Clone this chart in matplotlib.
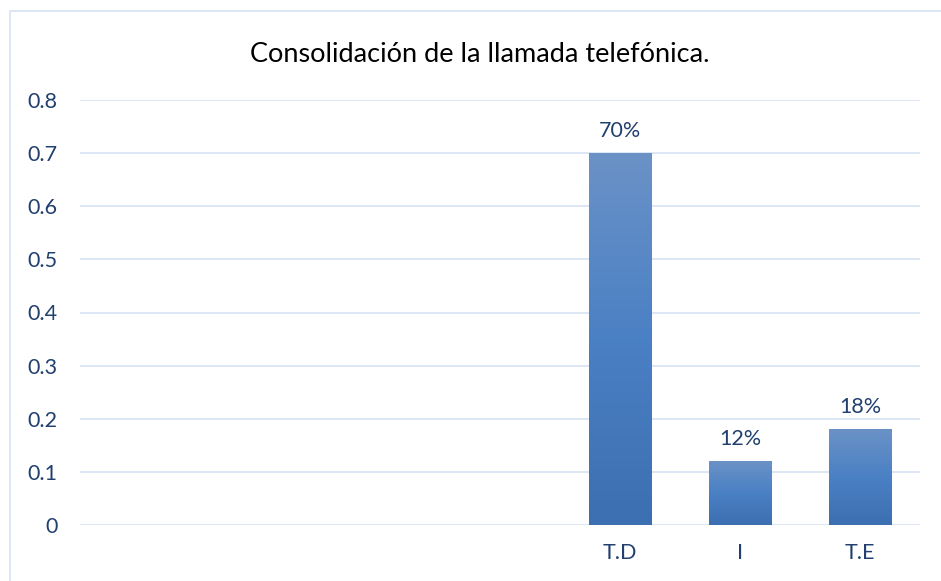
import numpy as np
import matplotlib.pyplot as plt
from matplotlib.colors import LinearSegmentedColormap
from matplotlib.patches import Rectangle

categorias = ["", "", "", "", "T.D", "I", "T.E"]
valores = [0, 0, 0, 0, 0.70, 0.12, 0.18]
etiquetas = ["", "", "", "", "70%", "12%", "18%"]

plt.rcParams['font.family'] = ['Lato', 'DejaVu Sans']
azul_texto = "#21406f"
grid_color = "#d6e2f3"

fig = plt.figure(figsize=(9.41, 5.81), dpi=100)
ax = fig.add_axes([80 / 941, 1 - 525 / 581, 840 / 941, 425 / 581])

# marco del grafico
fig.patches.append(Rectangle((10 / 941, -0.1), 1.2, 1 - 11 / 581 + 0.1, transform=fig.transFigure,
                             fill=False, edgecolor="#d6e2f3", linewidth=1.2))

x = np.arange(len(categorias))
barras = ax.bar(x, valores, width=0.52, color="none", edgecolor="none", zorder=3)

grad = LinearSegmentedColormap.from_list("g", ["#3c6fb1", "#4a80c4", "#6b92c7"])
for b in barras:
    if b.get_height() <= 0:
        continue
    im = ax.imshow(np.linspace(0, 1, 256).reshape(-1, 1), cmap=grad, origin="lower", aspect="auto",
                   extent=[b.get_x(), b.get_x() + b.get_width(), 0, b.get_height()], zorder=3)
    im.set_clip_path(b)

for xi, v, t in zip(x, valores, etiquetas):
    if t:
        ax.annotate(t, (xi, v), xytext=(0, 16), textcoords="offset points", ha="center", va="center",
                    fontsize=15.5, color=azul_texto)

ax.set_xlim(-0.5, len(categorias) - 0.5)
ax.set_ylim(0, 0.8)
ax.set_yticks(np.arange(0, 0.81, 0.1))
ax.set_yticklabels(["0", "0.1", "0.2", "0.3", "0.4", "0.5", "0.6", "0.7", "0.8"])
ax.set_xticks(x)
ax.set_xticklabels(categorias)
ax.tick_params(axis="both", length=0, labelsize=15.5, labelcolor=azul_texto)
ax.tick_params(axis="y", pad=16)
ax.tick_params(axis="x", pad=13)
ax.grid(axis="y", color=grid_color, linewidth=1.2, zorder=0)
ax.set_axisbelow(True)
for s in ax.spines.values():
    s.set_visible(False)

fig.text(480 / 941, 1 - 54 / 581, "Consolidación de la llamada telefónica.", ha="center", va="center",
         fontsize=19.5, color="black")

fig.savefig("out.png", dpi=100)
